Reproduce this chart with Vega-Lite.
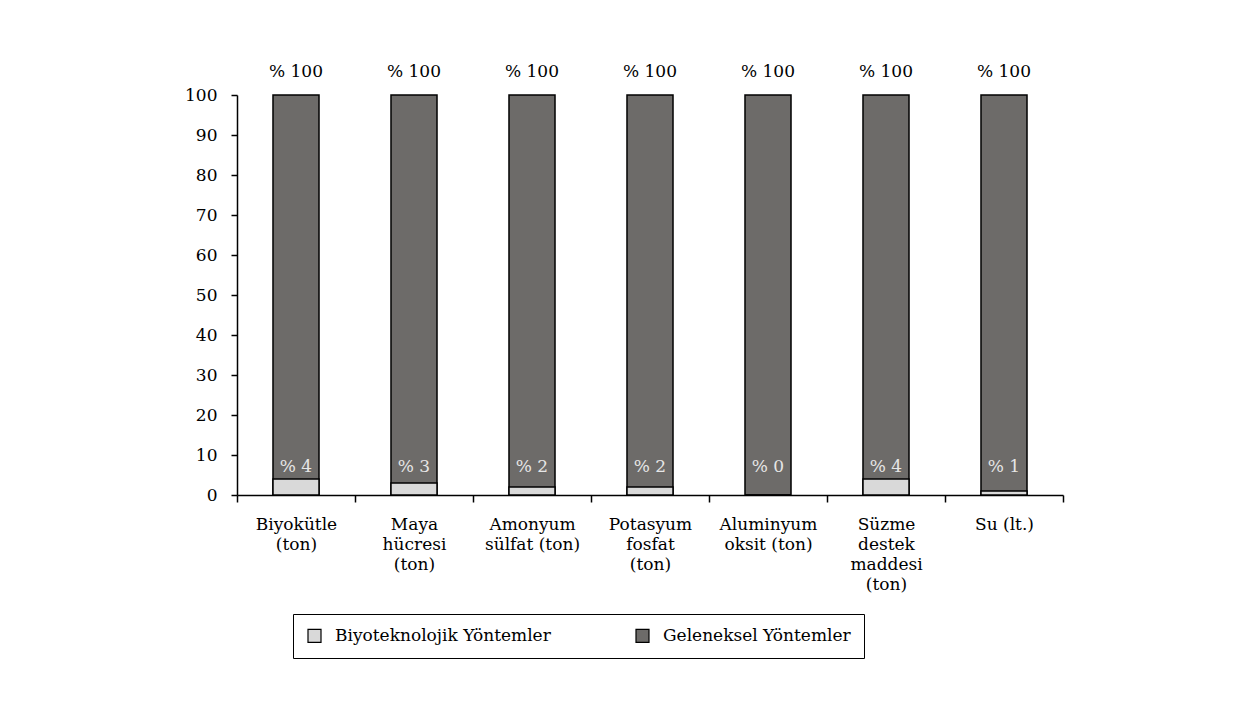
{
  "$schema": "https://vega.github.io/schema/vega-lite/v6.json",
  "width": 826,
  "height": 400,
  "autosize": {"type": "none"},
  "padding": {"left": 237, "top": 95, "right": 187, "bottom": 219},
  "background": "white",
  "config": {
    "view": {"stroke": null},
    "font": "DejaVu Serif",
    "axis": {"labelFont": "DejaVu Serif", "labelColor": "black", "domainColor": "black", "tickColor": "black", "domainWidth": 1.5, "tickWidth": 1.5, "grid": false}
  },
  "data": {
    "values": [
      {"category": "Biyokütle|(ton)", "method": "Geleneksel Yöntemler", "value": 100},
      {"category": "Maya|hücresi|(ton)", "method": "Geleneksel Yöntemler", "value": 100},
      {"category": "Amonyum|sülfat (ton)", "method": "Geleneksel Yöntemler", "value": 100},
      {"category": "Potasyum|fosfat|(ton)", "method": "Geleneksel Yöntemler", "value": 100},
      {"category": "Aluminyum|oksit (ton)", "method": "Geleneksel Yöntemler", "value": 100},
      {"category": "Süzme|destek|maddesi|(ton)", "method": "Geleneksel Yöntemler", "value": 100},
      {"category": "Su (lt.)", "method": "Geleneksel Yöntemler", "value": 100},
      {"category": "Biyokütle|(ton)", "method": "Biyoteknolojik Yöntemler", "value": 4},
      {"category": "Maya|hücresi|(ton)", "method": "Biyoteknolojik Yöntemler", "value": 3},
      {"category": "Amonyum|sülfat (ton)", "method": "Biyoteknolojik Yöntemler", "value": 2},
      {"category": "Potasyum|fosfat|(ton)", "method": "Biyoteknolojik Yöntemler", "value": 2},
      {"category": "Aluminyum|oksit (ton)", "method": "Biyoteknolojik Yöntemler", "value": 0},
      {"category": "Süzme|destek|maddesi|(ton)", "method": "Biyoteknolojik Yöntemler", "value": 4},
      {"category": "Su (lt.)", "method": "Biyoteknolojik Yöntemler", "value": 1}
    ]
  },
  "transform": [{"calculate": "'% ' + datum.value", "as": "label"}],
  "encoding": {
    "x": {
      "field": "category",
      "type": "nominal",
      "sort": null,
      "scale": {"paddingInner": 0, "paddingOuter": 0},
      "axis": {
        "title": null,
        "labelAngle": 0,
        "labelExpr": "split(datum.label, '|')",
        "labelFontSize": 17,
        "labelLineHeight": 20,
        "labelPadding": 14,
        "labelBaseline": "top",
        "tickBand": "extent",
        "tickSize": 7,
        "labelLimit": 200,
        "labelOverlap": false
      }
    },
    "y": {
      "field": "value",
      "type": "quantitative",
      "stack": null,
      "scale": {"domain": [0, 100], "nice": false},
      "axis": {"title": null, "values": [0, 10, 20, 30, 40, 50, 60, 70, 80, 90, 100], "labelFontSize": 17, "tickSize": 6, "labelPadding": 14, "labelOverlap": false}
    }
  },
  "layer": [
    {
      "mark": {"type": "bar", "stroke": "black", "strokeWidth": 1.5, "opacity": 1, "width": {"band": 0.39}},
      "encoding": {
        "color": {
          "field": "method",
          "type": "nominal",
          "scale": {"domain": ["Biyoteknolojik Yöntemler", "Geleneksel Yöntemler"], "range": ["#d9d9d9", "#6d6b69"]},
          "legend": {
            "title": null,
            "orient": "none",
            "legendX": 56,
            "legendY": 519,
            "direction": "horizontal",
            "columns": 2,
            "gridAlign": "all",
            "strokeColor": "black",
            "padding": 13,
            "symbolType": "square",
            "symbolSize": 169,
            "symbolStrokeColor": "black",
            "symbolStrokeWidth": 1.2,
            "symbolOpacity": 1,
            "labelFont": "DejaVu Serif",
            "labelFontSize": 17,
            "labelColor": "black",
            "labelOffset": 12,
            "labelLimit": 400,
            "columnPadding": 82
          }
        }
      }
    },
    {
      "transform": [{"filter": "datum.method == 'Geleneksel Yöntemler'"}],
      "mark": {"type": "text", "dy": -23, "fontSize": 17, "color": "black", "font": "DejaVu Serif"},
      "encoding": {
        "text": {"field": "label"}
      }
    },
    {
      "transform": [{"filter": "datum.method == 'Biyoteknolojik Yöntemler'"}],
      "mark": {"type": "text", "fontSize": 17, "color": "#e6e6e6", "font": "DejaVu Serif"},
      "encoding": {
        "y": {"datum": 7},
        "text": {"field": "label"}
      }
    }
  ]
}
